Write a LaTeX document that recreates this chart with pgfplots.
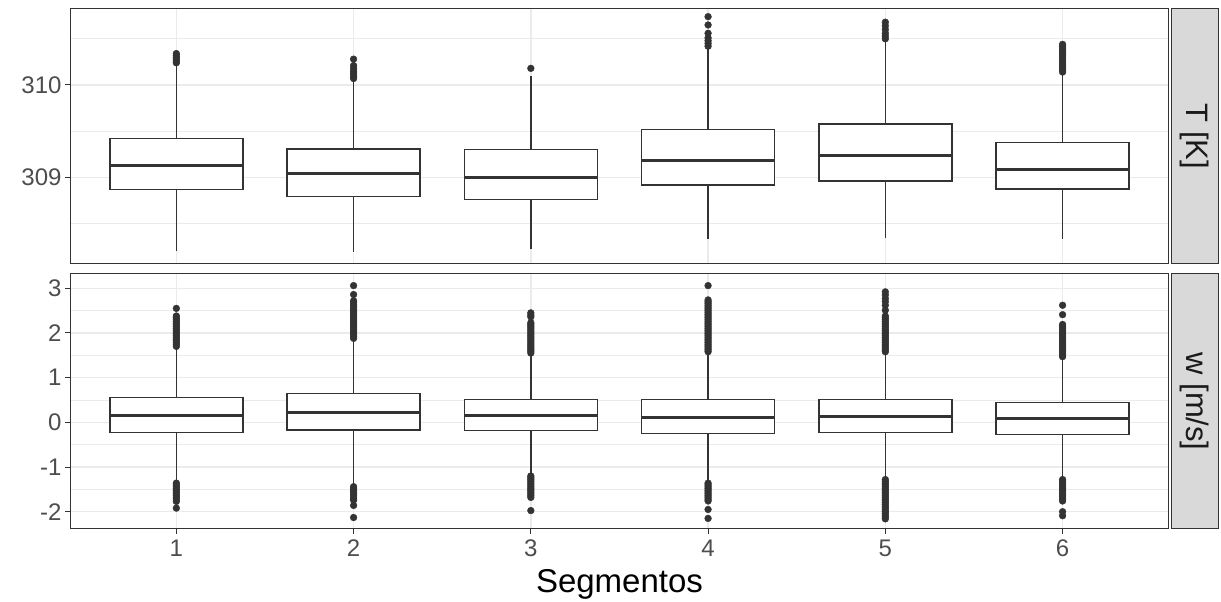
\documentclass[border=0pt]{standalone}
\usepackage{pgfplots}
\pgfplotsset{compat=1.18}
\usepgfplotslibrary{statistics}
\usepackage{fontspec}
\setmainfont{Liberation Sans}

\definecolor{gridgrey}{HTML}{EBEBEB}
\definecolor{boxgrey}{HTML}{333333}
\definecolor{ticktext}{HTML}{4D4D4D}
\definecolor{stripfill}{HTML}{D9D9D9}
\definecolor{striptext}{HTML}{1A1A1A}

\pgfplotsset{
  facet/.style={
    scale only axis, width=1099pt, height=255pt,
    xmin=0.4, xmax=6.6,
    axis line style={boxgrey, line width=1pt},
    xmajorgrids, ymajorgrids, yminorgrids,
    major grid style={gridgrey, line width=1.4pt},
    minor grid style={gridgrey, line width=0.7pt},
    xtick={1,2,3,4,5,6}, minor xtick={},
    tick style={boxgrey, line width=1pt},
    major tick length=5pt, minor tick length=0pt,
    tick align=outside, xtick pos=bottom, ytick pos=left,
    ticklabel style={font=\fontsize{24}{28}\selectfont, text=ticktext},
    /pgf/number format/assume math mode=true,
    /pgf/number format/1000 sep={},
    boxplot/draw direction=y,
    boxplot/box extend=0.75,
    boxplot/whisker extend=0,
    boxplot/every median/.style={line width=3pt},
  },
  bx/.style={boxplot prepared={#1}, draw=boxgrey, fill=white, line width=1.5pt, solid, mark=none},
  outl/.style={only marks, mark=*, mark size=3.4pt, boxgrey, mark options={draw=boxgrey, fill=boxgrey}},
}

\begin{document}
\begin{tikzpicture}
\useasboundingbox (0,0) rectangle (1221pt,602pt);

% Temperature panel
\begin{axis}[facet, at={(70pt,338pt)}, anchor=south west,
  ymin=308.061, ymax=310.823,
  ytick={309,310}, minor ytick={308.5,309.5,310.5},
  xticklabels={}, xtick style={draw=none}]
\addplot[bx={draw position=1, lower whisker=308.205, lower quartile=308.866, median=309.126, upper quartile=309.418, upper whisker=310.22}] coordinates {};
\addplot[bx={draw position=2, lower whisker=308.187, lower quartile=308.794, median=309.043, upper quartile=309.307, upper whisker=310.05}] coordinates {};
\addplot[bx={draw position=3, lower whisker=308.220, lower quartile=308.757, median=309.003, upper quartile=309.300, upper whisker=310.10}] coordinates {};
\addplot[bx={draw position=4, lower whisker=308.335, lower quartile=308.917, median=309.177, upper quartile=309.520, upper whisker=310.40}] coordinates {};
\addplot[bx={draw position=5, lower whisker=308.342, lower quartile=308.960, median=309.234, upper quartile=309.577, upper whisker=310.48}] coordinates {};
\addplot[bx={draw position=6, lower whisker=308.335, lower quartile=308.873, median=309.087, upper quartile=309.379, upper whisker=310.12}] coordinates {};
\addplot[outl] coordinates {
  (1,310.24) (1,310.26) (1,310.28) (1,310.30) (1,310.32) (1,310.34)
  (2,310.07) (2,310.09) (2,310.11) (2,310.13) (2,310.15) (2,310.18) (2,310.21) (2,310.28)
  (3,310.18)
  (4,310.42) (4,310.45) (4,310.48) (4,310.51) (4,310.56) (4,310.65) (4,310.74)
  (5,310.50) (5,310.53) (5,310.56) (5,310.60) (5,310.64) (5,310.68)
  (6,310.14) (6,310.16) (6,310.18) (6,310.20) (6,310.22) (6,310.24) (6,310.26) (6,310.28)
  (6,310.30) (6,310.32) (6,310.34) (6,310.36) (6,310.38) (6,310.40) (6,310.42) (6,310.44)
};
\end{axis}

% Vertical velocity panel
\begin{axis}[facet, at={(70pt,73pt)}, anchor=south west,
  ymin=-2.387, ymax=3.32,
  ytick={-2,-1,0,1,2,3}, minor ytick={-1.5,-0.5,0.5,1.5,2.5},
  xticklabel style={yshift=-2pt}]
\addplot[bx={draw position=1, lower whisker=-1.33, lower quartile=-0.224, median=0.149, upper quartile=0.559, upper whisker=1.67}] coordinates {};
\addplot[bx={draw position=2, lower whisker=-1.40, lower quartile=-0.171, median=0.224, upper quartile=0.648, upper whisker=1.84}] coordinates {};
\addplot[bx={draw position=3, lower whisker=-1.16, lower quartile=-0.186, median=0.149, upper quartile=0.514, upper whisker=1.51}] coordinates {};
\addplot[bx={draw position=4, lower whisker=-1.33, lower quartile=-0.253, median=0.119, upper quartile=0.507, upper whisker=1.54}] coordinates {};
\addplot[bx={draw position=5, lower whisker=-1.25, lower quartile=-0.224, median=0.127, upper quartile=0.507, upper whisker=1.54}] coordinates {};
\addplot[bx={draw position=6, lower whisker=-1.25, lower quartile=-0.268, median=0.075, upper quartile=0.440, upper whisker=1.43}] coordinates {};
\addplot[outl] coordinates {
  (1,1.70) (1,1.74) (1,1.78) (1,1.82) (1,1.86) (1,1.90) (1,1.94) (1,1.98) (1,2.02) (1,2.06)
  (1,2.10) (1,2.14) (1,2.18) (1,2.22) (1,2.26) (1,2.30) (1,2.34) (1,2.38) (1,2.55)
  (1,-1.36) (1,-1.40) (1,-1.44) (1,-1.48) (1,-1.52) (1,-1.56) (1,-1.60) (1,-1.64) (1,-1.68)
  (1,-1.72) (1,-1.77) (1,-1.92)
  (2,1.88) (2,1.92) (2,1.96) (2,2.00) (2,2.04) (2,2.08) (2,2.12) (2,2.16) (2,2.20) (2,2.24)
  (2,2.28) (2,2.32) (2,2.36) (2,2.40) (2,2.44) (2,2.48) (2,2.52) (2,2.56) (2,2.60) (2,2.64)
  (2,2.68) (2,2.72) (2,2.86) (2,3.06)
  (2,-1.44) (2,-1.48) (2,-1.52) (2,-1.56) (2,-1.60) (2,-1.64) (2,-1.68) (2,-1.72) (2,-1.74)
  (2,-1.86) (2,-2.13)
  (3,1.55) (3,1.59) (3,1.63) (3,1.67) (3,1.71) (3,1.75) (3,1.79) (3,1.83) (3,1.87) (3,1.91)
  (3,1.95) (3,1.99) (3,2.03) (3,2.07) (3,2.11) (3,2.15) (3,2.19) (3,2.23) (3,2.36) (3,2.40) (3,2.45)
  (3,-1.20) (3,-1.24) (3,-1.28) (3,-1.32) (3,-1.36) (3,-1.40) (3,-1.44) (3,-1.48) (3,-1.52)
  (3,-1.56) (3,-1.60) (3,-1.64) (3,-1.68) (3,-1.975)
  (4,1.58) (4,1.62) (4,1.66) (4,1.70) (4,1.74) (4,1.78) (4,1.82) (4,1.86) (4,1.90) (4,1.94)
  (4,1.98) (4,2.02) (4,2.06) (4,2.10) (4,2.14) (4,2.18) (4,2.22) (4,2.26) (4,2.30) (4,2.34)
  (4,2.38) (4,2.42) (4,2.46) (4,2.50) (4,2.54) (4,2.58) (4,2.62) (4,2.66) (4,2.70) (4,2.74) (4,3.06)
  (4,-1.36) (4,-1.40) (4,-1.44) (4,-1.48) (4,-1.52) (4,-1.56) (4,-1.60) (4,-1.64) (4,-1.68)
  (4,-1.72) (4,-1.76) (4,-1.95) (4,-2.15)
  (5,1.58) (5,1.62) (5,1.66) (5,1.70) (5,1.74) (5,1.78) (5,1.82) (5,1.86) (5,1.90) (5,1.94)
  (5,1.98) (5,2.02) (5,2.06) (5,2.10) (5,2.14) (5,2.18) (5,2.22) (5,2.26) (5,2.30) (5,2.34)
  (5,2.38) (5,2.51) (5,2.62) (5,2.70) (5,2.77) (5,2.85) (5,2.92)
  (5,-1.28) (5,-1.32) (5,-1.36) (5,-1.40) (5,-1.44) (5,-1.48) (5,-1.52) (5,-1.56) (5,-1.60)
  (5,-1.64) (5,-1.68) (5,-1.72) (5,-1.76) (5,-1.80) (5,-1.84) (5,-1.88) (5,-1.92) (5,-1.96)
  (5,-2.00) (5,-2.04) (5,-2.08) (5,-2.12) (5,-2.16)
  (6,1.47) (6,1.51) (6,1.55) (6,1.59) (6,1.63) (6,1.67) (6,1.71) (6,1.75) (6,1.79) (6,1.83)
  (6,1.87) (6,1.91) (6,1.95) (6,1.99) (6,2.03) (6,2.07) (6,2.11) (6,2.15) (6,2.19) (6,2.41) (6,2.62)
  (6,-1.28) (6,-1.32) (6,-1.36) (6,-1.40) (6,-1.44) (6,-1.48) (6,-1.52) (6,-1.56) (6,-1.60)
  (6,-1.64) (6,-1.68) (6,-1.72) (6,-1.76) (6,-2.00) (6,-2.09)
};
\end{axis}

% facet strips on the right
\draw[fill=stripfill, draw=boxgrey, line width=1pt] (1171pt,338pt) rectangle (1218pt,593pt);
\node[rotate=-90, text=striptext, font=\fontsize{31}{36}\selectfont] at (1194.5pt,465.5pt) {T [K]};
\draw[fill=stripfill, draw=boxgrey, line width=1pt] (1171pt,73pt) rectangle (1218pt,328pt);
\node[rotate=-90, text=striptext, font=\fontsize{31}{36}\selectfont] at (1194.5pt,200.5pt) {w [m/s]};

% shared x axis title
\node[anchor=base, font=\fontsize{33}{38}\selectfont] at (619.5pt,9pt) {Segmentos};
\end{tikzpicture}
\end{document}
